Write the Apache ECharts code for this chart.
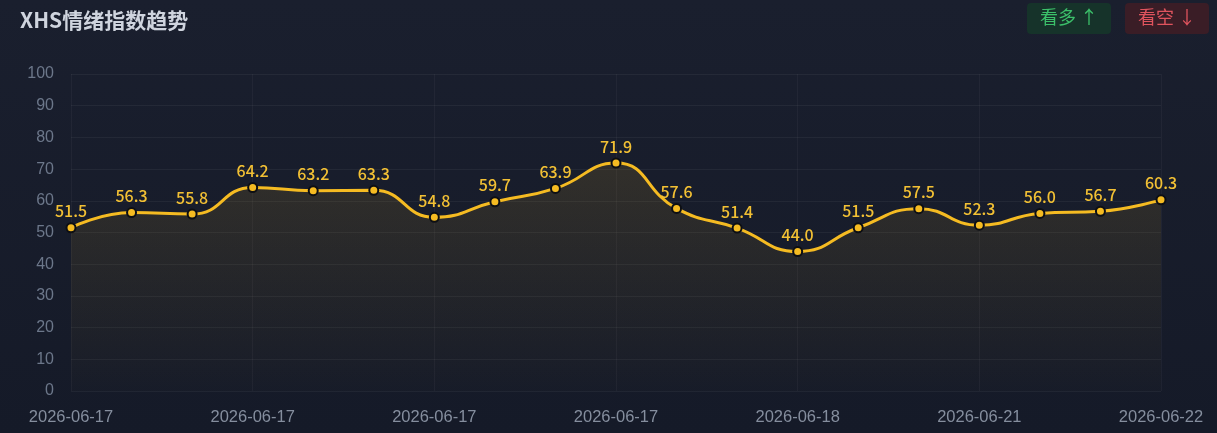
<!DOCTYPE html>
<html>
<head>
<meta charset="utf-8">
<script src="https://cdn.jsdelivr.net/npm/echarts@6/dist/echarts.min.js"></script>
<style>
  html, body { margin: 0; padding: 0; background: #171c2a; }
  #chart { width: 1217px; height: 433px; }
</style>
</head>
<body>
<div id="chart"></div>
<script>
// 时间轴
var dates = [
  '2026-06-17', '2026-06-17', '2026-06-17', '2026-06-17', '2026-06-17',
  '2026-06-17', '2026-06-17', '2026-06-17', '2026-06-17', '2026-06-17',
  '2026-06-18', '2026-06-18', '2026-06-18', '2026-06-19', '2026-06-20',
  '2026-06-21', '2026-06-21', '2026-06-22', '2026-06-22'
];
// 情绪指数
var sentiment = [51.5, 56.3, 55.8, 64.2, 63.2, 63.3, 54.8, 59.7, 63.9, 71.9,
                 57.6, 51.4, 44.0, 51.5, 57.5, 52.3, 56.0, 56.7, 60.3];
var yTicks = [0, 100, 10];

var chart = echarts.init(document.getElementById('chart'));
chart.setOption({
  backgroundColor: new echarts.graphic.LinearGradient(0, 0, 0, 1, [
    { offset: 0, color: '#1a1f2e' },
    { offset: 1, color: '#151a28' }
  ]),
  title: {
    text: 'XHS情绪指数趋势',
    left: 15,
    top: 5,
    textStyle: { color: '#cfd4de', fontSize: 21, fontWeight: 'bold', fontFamily: 'Noto Sans CJK SC' }
  },
  graphic: [
    { type: 'rect', left: 1027, top: 3, shape: { width: 84, height: 31, r: 4 }, style: { fill: '#16332a' } },
    { type: 'text', left: 1040, top: 8, style: { text: '看多 ↑', fill: '#3cc06a', font: '18px "Noto Sans CJK SC"' } },
    { type: 'rect', left: 1125, top: 3, shape: { width: 84, height: 31, r: 4 }, style: { fill: '#3a1d26' } },
    { type: 'text', left: 1138, top: 8, style: { text: '看空 ↓', fill: '#e0545e', font: '18px "Noto Sans CJK SC"' } }
  ],
  grid: { left: 71, right: 56, top: 74, bottom: 42 },
  xAxis: {
    type: 'category',
    data: dates,
    boundaryGap: false,
    axisLine: { show: false },
    axisTick: { show: false },
    axisLabel: { interval: 2, color: '#858e9e', fontSize: 16.5, margin: 18, fontFamily: 'Liberation Sans' },
    splitLine: { show: true, interval: 2, lineStyle: { color: 'rgba(255,255,255,0.04)' } }
  },
  yAxis: {
    type: 'value',
    min: yTicks[0],
    max: yTicks[1],
    interval: yTicks[2],
    axisLine: { show: false },
    axisTick: { show: false },
    axisLabel: { color: '#6c778a', fontSize: 16, margin: 17, fontFamily: 'Liberation Sans' },
    splitLine: { lineStyle: { color: 'rgba(255,255,255,0.05)' } }
  },
  series: [{
    type: 'line',
    data: sentiment,
    smooth: true,
    symbol: 'circle',
    symbolSize: 9,
    itemStyle: { color: '#f5bb22', borderColor: '#0d0f14', borderWidth: 2 },
    lineStyle: { color: '#f5bb22', width: 3 },
    areaStyle: {
      color: new echarts.graphic.LinearGradient(0, 0, 0, 1, [
        { offset: 0, color: 'rgba(245,187,34,0.17)' },
        { offset: 1, color: 'rgba(245,187,34,0.01)' }
      ])
    },
    label: {
      show: true,
      position: 'top',
      distance: 3,
      color: '#f2c034',
      fontSize: 16,
      fontWeight: 500,
      fontFamily: 'Noto Sans CJK SC',
      formatter: function (p) { return p.value.toFixed(1); }
    }
  }]
});
</script>
</body>
</html>
